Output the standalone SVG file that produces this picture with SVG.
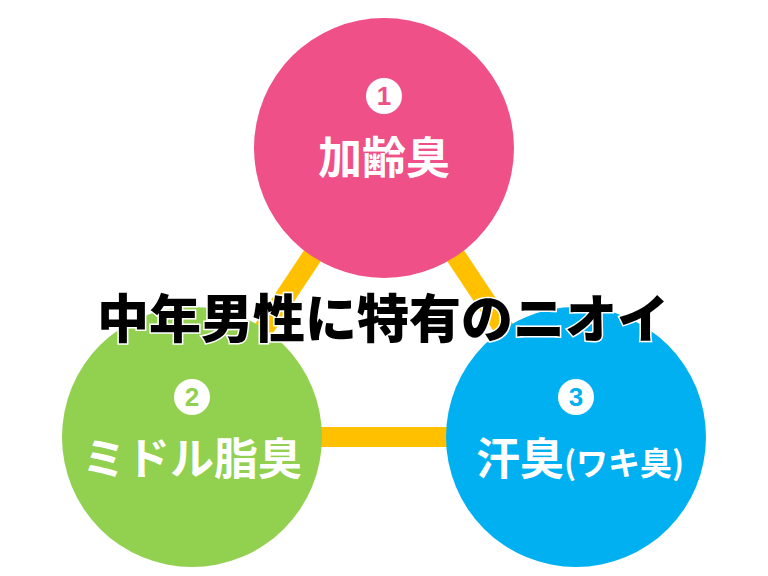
<svg xmlns="http://www.w3.org/2000/svg" width="768" height="576" viewBox="0 0 768 576">
<style>
.lbl{font-family:"Noto Sans CJK JP","Liberation Sans",sans-serif;font-weight:bold;fill:#fff;text-anchor:middle}
.num{font-family:"Liberation Sans",sans-serif;font-weight:bold;font-size:26px;text-anchor:middle}
</style>
<rect width="768" height="576" fill="#fff"/>
<g id="connectors" stroke="#FFC000" stroke-width="20" fill="none">
<line x1="384" y1="148" x2="192" y2="437"/>
<line x1="384" y1="148" x2="576" y2="437"/>
<line x1="192" y1="437" x2="576" y2="437"/>
</g>
<g id="node1">
<circle cx="384" cy="148" r="130" fill="#EE5087"/>
<circle cx="384" cy="96" r="18" fill="#fff"/>
<text class="num" x="384" y="105" fill="#EE5087">1</text>
<text class="lbl" x="384" y="174" font-size="44">加齢臭</text>
</g>
<g id="node2">
<circle cx="192" cy="437" r="130" fill="#92D050"/>
<circle cx="192" cy="397" r="18" fill="#fff"/>
<text class="num" x="192" y="406" fill="#92D050">2</text>
<text class="lbl" x="192" y="475" font-size="44">ミドル脂臭</text>
</g>
<g id="node3">
<circle cx="576" cy="437" r="130" fill="#00B0F0"/>
<circle cx="576" cy="397" r="18" fill="#fff"/>
<text class="num" x="576" y="406" fill="#00B0F0">3</text>
<text class="lbl" x="580" y="475" font-size="44">汗臭<tspan font-size="32">(ワキ臭)</tspan></text>
</g>
<g id="title">
<text x="383" y="338" font-family="Noto Sans CJK JP,sans-serif" font-weight="900" font-size="52" text-anchor="middle" fill="#000" stroke="#fff" stroke-width="3" paint-order="stroke">中年男性に特有のニオイ</text>
</g>
</svg>
